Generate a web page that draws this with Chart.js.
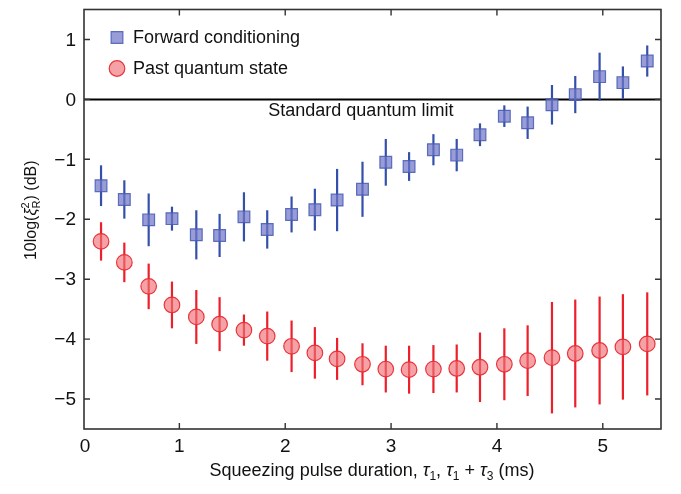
<!DOCTYPE html>
<html>
<head>
<meta charset="utf-8">
<script src="https://cdn.jsdelivr.net/npm/chart.js@4"></script>
<style>
  html, body { margin: 0; padding: 0; background: #fff; }
  canvas { display: block; }
</style>
</head>
<body>
<canvas id="chart" width="681" height="494"></canvas>
<script>
// pulse duration (ms) for each measurement
const DURATIONS = [0.26, 0.48, 0.71, 0.93, 1.16, 1.38, 1.61, 1.83, 2.06, 2.28, 2.49, 2.73,
  2.95, 3.17, 3.40, 3.62, 3.84, 4.07, 4.29, 4.52, 4.74, 4.97, 5.19, 5.42];

const FORWARD_MEAN = [-1.44, -1.67, -2.01, -1.99, -2.26, -2.27, -1.96, -2.17, -1.92, -1.84, -1.68, -1.50,
  -1.05, -1.12, -0.84, -0.93, -0.59, -0.28, -0.39, -0.09, 0.08, 0.38, 0.28, 0.64];
const FORWARD_ERR = [0.34, 0.32, 0.44, 0.20, 0.41, 0.36, 0.41, 0.32, 0.30, 0.35, 0.52, 0.46,
  0.39, 0.24, 0.26, 0.27, 0.19, 0.18, 0.27, 0.33, 0.31, 0.40, 0.27, 0.26];

const PAST_MEAN = [-2.37, -2.72, -3.12, -3.43, -3.63, -3.75, -3.85, -3.95, -4.12, -4.23, -4.33, -4.42,
  -4.50, -4.51, -4.50, -4.49, -4.47, -4.42, -4.36, -4.31, -4.24, -4.19, -4.13, -4.08];
const PAST_ERR = [0.32, 0.33, 0.38, 0.39, 0.45, 0.45, 0.26, 0.41, 0.43, 0.43, 0.35, 0.35,
  0.39, 0.40, 0.40, 0.40, 0.58, 0.60, 0.59, 0.93, 0.90, 0.90, 0.88, 0.86];

const X_TICKS = [0, 1, 2, 3, 4, 5];
const Y_TICKS = [-5, -4, -3, -2, -1, 0, 1];

const SQL_LABEL = "Standard quantum limit";

const FONT = "'Liberation Sans', Arial, Helvetica, sans-serif";
const AXIS_COLOR = "#333";

function toPoints(means) {
  return DURATIONS.map((x, i) => ({ x, y: means[i] }));
}

// text pieces {t, size, italic, dy} drawn one after the other
function runsWidth(ctx, runs) {
  let w = 0;
  runs.forEach((r) => {
    ctx.font = (r.italic ? "italic " : "") + r.size + "px " + FONT;
    w += r.stack ? Math.max(...r.stack.map((s) => ctx.measureText(s.t).width)) : ctx.measureText(r.t).width;
  });
  return w;
}

function drawRuns(ctx, runs, x, y) {
  let cx = x;
  runs.forEach((r) => {
    ctx.font = (r.italic ? "italic " : "") + r.size + "px " + FONT;
    if (r.stack) {
      let w = 0;
      r.stack.forEach((s) => {
        ctx.fillText(s.t, cx, y + s.dy);
        w = Math.max(w, ctx.measureText(s.t).width);
      });
      cx += w;
    } else {
      ctx.fillText(r.t, cx, y + (r.dy || 0));
      cx += ctx.measureText(r.t).width;
    }
  });
}

const errorBars = {
  id: "errorBars",
  beforeDatasetsDraw(chart) {
    const ctx = chart.ctx;
    const yScale = chart.scales.y;
    const area = chart.chartArea;
    ctx.save();
    // standard quantum limit line
    const y0 = yScale.getPixelForValue(0);
    ctx.strokeStyle = "#000";
    ctx.lineWidth = 2;
    ctx.beginPath();
    ctx.moveTo(area.left, y0);
    ctx.lineTo(area.right, y0);
    ctx.stroke();

    chart.data.datasets.forEach((ds, di) => {
      const meta = chart.getDatasetMeta(di);
      ctx.strokeStyle = ds.errColor;
      ctx.lineWidth = 2.2;
      meta.data.forEach((pt, i) => {
        const m = ds.data[i].y;
        const e = ds.errors[i];
        ctx.beginPath();
        ctx.moveTo(pt.x, yScale.getPixelForValue(m + e));
        ctx.lineTo(pt.x, yScale.getPixelForValue(m - e));
        ctx.stroke();
      });
    });
    ctx.restore();
  },
};

const frame = {
  id: "frame",
  afterDraw(chart) {
    const ctx = chart.ctx;
    const area = chart.chartArea;
    const xs = chart.scales.x;
    const ys = chart.scales.y;
    ctx.save();
    ctx.strokeStyle = AXIS_COLOR;
    ctx.lineWidth = 1.6;
    ctx.strokeRect(area.left, area.top, area.right - area.left, area.bottom - area.top);

    // inward ticks
    ctx.lineWidth = 1.4;
    const tl = 6;
    ctx.beginPath();
    X_TICKS.forEach((v) => {
      const px = xs.getPixelForValue(v);
      if (px <= area.left + 1) return;
      ctx.moveTo(px, area.bottom);
      ctx.lineTo(px, area.bottom - tl);
      ctx.moveTo(px, area.top);
      ctx.lineTo(px, area.top + tl);
    });
    Y_TICKS.forEach((v) => {
      const py = ys.getPixelForValue(v);
      ctx.moveTo(area.left, py);
      ctx.lineTo(area.left + tl, py);
      ctx.moveTo(area.right, py);
      ctx.lineTo(area.right - tl, py);
    });
    ctx.stroke();

    // tick labels
    ctx.fillStyle = "#111";
    ctx.font = "19px " + FONT;
    ctx.textAlign = "right";
    ctx.textBaseline = "middle";
    Y_TICKS.forEach((v) => {
      const label = v < 0 ? "\u2212" + Math.abs(v) : String(v);
      ctx.fillText(label, area.left - 8, ys.getPixelForValue(v) + 1);
    });
    ctx.textAlign = "center";
    ctx.textBaseline = "top";
    X_TICKS.forEach((v) => {
      const px = Math.max(xs.getPixelForValue(v), area.left + 1);
      ctx.fillText(String(v), px, area.bottom + 8);
    });

    // annotation under the zero line
    ctx.font = "18px " + FONT;
    ctx.textAlign = "left";
    ctx.textBaseline = "middle";
    ctx.fillText(SQL_LABEL, xs.getPixelForValue(1.84), ys.getPixelForValue(-0.2));

    // legend inside the plot
    chart.data.datasets.forEach((ds, di) => {
      const lx = area.left + 33;
      const ly = area.top + 28 + di * 31;
      ctx.fillStyle = ds.backgroundColor;
      ctx.strokeStyle = ds.borderColor;
      ctx.lineWidth = ds.borderWidth;
      ctx.beginPath();
      if (ds.pointStyle === "rect") {
        const s = Math.SQRT1_2 * ds.pointRadius;
        ctx.rect(lx - s, ly - s, 2 * s, 2 * s);
      } else {
        ctx.arc(lx, ly, ds.pointRadius, 0, Math.PI * 2);
      }
      ctx.fill();
      ctx.stroke();
      ctx.fillStyle = "#111";
      ctx.font = "18px " + FONT;
      ctx.fillText(ds.label, lx + 16, ly + 1);
    });

    // axis titles
    ctx.fillStyle = "#111";
    ctx.textAlign = "left";
    ctx.textBaseline = "alphabetic";
    const xRuns = [
      { t: "Squeezing pulse duration, ", size: 18 },
      { t: "\u03c4", size: 18, italic: true },
      { t: "1", size: 12, dy: 4 },
      { t: ", ", size: 18 },
      { t: "\u03c4", size: 18, italic: true },
      { t: "1", size: 12, dy: 4 },
      { t: " + ", size: 18 },
      { t: "\u03c4", size: 18, italic: true },
      { t: "3", size: 12, dy: 4 },
      { t: " (ms)", size: 18 },
    ];
    const xw = runsWidth(ctx, xRuns);
    drawRuns(ctx, xRuns, 372 - xw / 2, area.bottom + 47);

    const yRuns = [
      { t: "10log(", size: 16 },
      { t: "\u03be", size: 16, italic: true },
      { size: 11, stack: [{ t: "2", dy: -7 }, { t: "R", dy: 4 }] },
      { t: ") (dB)", size: 16 },
    ];
    const yw = runsWidth(ctx, yRuns);
    ctx.translate(36, (area.top + area.bottom) / 2 - 9);
    ctx.rotate(-Math.PI / 2);
    drawRuns(ctx, yRuns, -yw / 2, 0);
    ctx.restore();
  },
};

new Chart(document.getElementById("chart"), {
  type: "scatter",
  data: {
    datasets: [
      {
        label: "Forward conditioning",
        data: toPoints(FORWARD_MEAN),
        errors: FORWARD_ERR,
        errColor: "#3450aa",
        pointStyle: "rect",
        pointRadius: 8.3,
        backgroundColor: "rgba(112, 118, 200, 0.72)",
        borderColor: "rgba(70, 90, 180, 0.85)",
        borderWidth: 1.2,
      },
      {
        label: "Past quantum state",
        data: toPoints(PAST_MEAN),
        errors: PAST_ERR,
        errColor: "#ec1f2a",
        pointStyle: "circle",
        pointRadius: 7.8,
        backgroundColor: "rgba(240, 112, 118, 0.65)",
        borderColor: "rgba(232, 44, 52, 0.95)",
        borderWidth: 1.2,
      },
    ],
  },
  options: {
    responsive: false,
    animation: false,
    layout: { padding: { left: 84, right: 20, top: 5, bottom: 65 } },
    scales: {
      x: { type: "linear", display: false, min: 0.099, max: 5.55 },
      y: { type: "linear", display: false, min: -5.5, max: 1.5 },
    },
    plugins: {
      legend: { display: false },
      tooltip: { enabled: false },
    },
  },
  plugins: [errorBars, frame],
});
</script>
</body>
</html>
